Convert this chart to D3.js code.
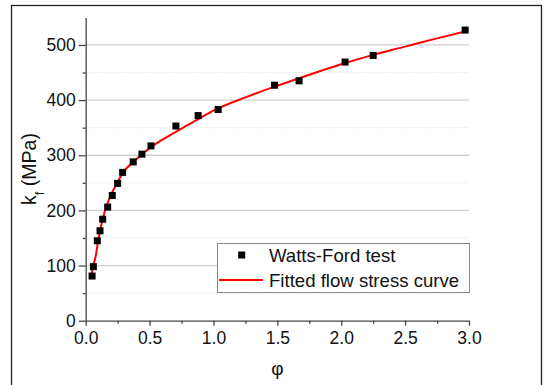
<!DOCTYPE html>
<html>
<head>
<meta charset="utf-8">
<script src="https://cdn.jsdelivr.net/npm/d3@7"></script>
<style>
  body { margin: 0; background: #fff; }
  text { font-family: "Liberation Sans", Arial, sans-serif; fill: #111; }
</style>
</head>
<body>
<div id="chart"></div>
<script>
// measured points (Watts-Ford test)
var testPhi = [0.050, 0.060, 0.091, 0.112, 0.133, 0.172, 0.208, 0.250, 0.289, 0.372, 0.440, 0.511, 0.706, 0.880, 1.037, 1.478, 1.670, 2.030, 2.250, 2.970];
var testKf  = [81, 98, 145, 163, 184, 206, 227, 249, 269, 288, 302, 317, 353, 372, 383, 427, 435, 469, 481, 527];

// fitted flow stress curve
var fitPhi = [0.045, 0.060, 0.077, 0.095, 0.113, 0.133, 0.153, 0.192, 0.244, 0.296, 0.374, 0.452, 0.530, 0.635, 0.739, 0.870, 1.000, 1.250, 1.500, 1.750, 2.000, 2.250, 2.500, 2.750, 2.980];
var fitKf  = [82, 100, 116, 141, 164, 184, 201, 225, 249, 270, 288, 304, 318, 333, 347, 364, 381, 405, 426, 446, 465, 482, 497, 512, 525];

var xMajor = [0, 0.5, 1.0, 1.5, 2.0, 2.5, 3.0];
var xMinor = [0.25, 0.75, 1.25, 1.75, 2.25, 2.75];
var yMajor = [0, 100, 200, 300, 400, 500];
var yMinor = [50, 150, 250, 350, 450];

var legendLabels = ["Watts-Ford test", "Fitted flow stress curve"];

var width = 548, height = 385;

var svg = d3.select("#chart").append("svg")
    .attr("width", width)
    .attr("height", height);

// outer frame
svg.append("rect")
    .attr("x", 11.5).attr("y", 5.5)
    .attr("width", 530).attr("height", 400)
    .attr("fill", "none")
    .attr("stroke", "#222")
    .attr("stroke-width", 1.3);

var x = d3.scaleLinear().domain([0, 3]).range([85.7, 469]);
var y = d3.scaleLinear().domain([0, 550]).range([320.7, 17.4]);

// grid
svg.append("g").selectAll("line").data(yMajor.slice(1))
  .enter().append("line")
    .attr("x1", x(0)).attr("x2", x(3))
    .attr("y1", function(d) { return y(d); })
    .attr("y2", function(d) { return y(d); })
    .attr("stroke", "#cfcfcf")
    .attr("stroke-width", 1.3);
svg.append("g").selectAll("line").data(yMinor)
  .enter().append("line")
    .attr("x1", x(0)).attr("x2", x(3))
    .attr("y1", function(d) { return y(d); })
    .attr("y2", function(d) { return y(d); })
    .attr("stroke", "#dadada")
    .attr("stroke-width", 1)
    .attr("stroke-dasharray", "1,2");

// axes
svg.append("g")
    .attr("transform", "translate(0," + y(0) + ")")
    .call(d3.axisBottom(x).tickValues(xMajor).tickFormat(d3.format(".1f")).tickSize(5).tickSizeOuter(0).tickPadding(6));
svg.append("g")
    .attr("transform", "translate(0," + y(0) + ")")
    .call(d3.axisBottom(x).tickValues(xMinor).tickFormat("").tickSize(3).tickSizeOuter(0))
    .select(".domain").remove();

svg.append("g")
    .attr("transform", "translate(" + x(0) + ",0)")
    .call(d3.axisLeft(y).tickValues(yMajor).tickSize(7).tickSizeOuter(0).tickPadding(3));
svg.append("g")
    .attr("transform", "translate(" + x(0) + ",0)")
    .call(d3.axisLeft(y).tickValues(yMinor).tickFormat("").tickSize(3).tickSizeOuter(0))
    .select(".domain").remove();

svg.selectAll(".domain, .tick line").attr("stroke", "#444").attr("stroke-width", 1.3);
svg.selectAll(".tick text").style("font-size", "17.5px").attr("fill", "#111");

// axis titles
svg.append("text")
    .attr("x", x(1.5)).attr("y", 375)
    .attr("text-anchor", "middle")
    .style("font-size", "19px")
    .text("φ");

var yt = svg.append("text")
    .attr("transform", "translate(36,169) rotate(-90)")
    .attr("text-anchor", "middle")
    .style("font-size", "19.5px");
yt.append("tspan").text("k");
yt.append("tspan").attr("baseline-shift", "sub").style("font-size", "13px").text("f");
yt.append("tspan").text(" (MPa)");

// fitted curve
var line = d3.line()
    .x(function(d, i) { return x(fitPhi[i]); })
    .y(function(d) { return y(d); })
    .curve(d3.curveMonotoneX);

svg.append("path")
    .datum(fitKf)
    .attr("d", line)
    .attr("fill", "none")
    .attr("stroke", "#ff0000")
    .attr("stroke-width", 2);

// test points
var s = 7;
svg.append("g").selectAll("rect").data(testKf)
  .enter().append("rect")
    .attr("x", function(d, i) { return x(testPhi[i]) - s / 2; })
    .attr("y", function(d) { return y(d) - s / 2; })
    .attr("width", s).attr("height", s)
    .attr("fill", "#000");

// legend
var lg = svg.append("g");
lg.append("rect")
    .attr("x", 217.5).attr("y", 243.5)
    .attr("width", 252).attr("height", 49)
    .attr("fill", "#fff")
    .attr("stroke", "#888")
    .attr("stroke-width", 1);
lg.append("rect")
    .attr("x", 241.7 - 3.5).attr("y", 255 - 3.5)
    .attr("width", 7).attr("height", 7)
    .attr("fill", "#000");
lg.append("line")
    .attr("x1", 219).attr("x2", 263)
    .attr("y1", 280).attr("y2", 280)
    .attr("stroke", "#ff0000")
    .attr("stroke-width", 2);
lg.selectAll("text").data(legendLabels)
  .enter().append("text")
    .attr("x", 269)
    .attr("y", function(d, i) { return 255 + i * 25; })
    .attr("dy", "0.35em")
    .style("font-size", "18.6px")
    .text(function(d) { return d; });
</script>
</body>
</html>
